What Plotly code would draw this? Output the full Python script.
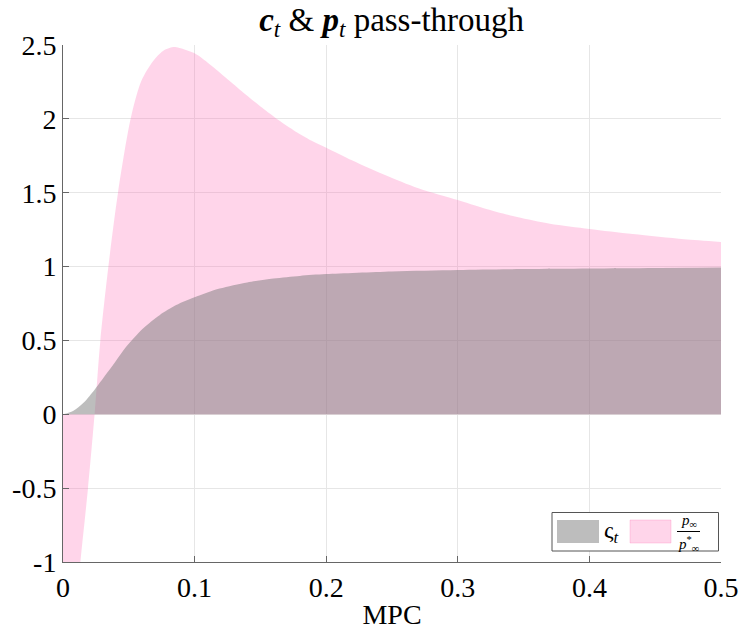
import plotly.graph_objects as go

# --- data ---
mpc_gray = [0, 0.0076, 0.0152, 0.0228, 0.0304, 0.038, 0.048, 0.0608, 0.0734,
            0.086, 0.1, 0.119, 0.14, 0.16, 0.18, 0.2, 0.25, 0.3, 0.35, 0.4,
            0.45, 0.5]
varsigma = [0, 0.0225, 0.074, 0.153, 0.243, 0.333, 0.457, 0.581, 0.671,
            0.739, 0.792, 0.851, 0.893, 0.919, 0.937, 0.949, 0.967, 0.977,
            0.983, 0.987, 0.991, 0.994]

mpc_pink = [0, 0.005, 0.01, 0.0132, 0.019, 0.024, 0.0284, 0.0345, 0.0418, 0.0514,
            0.0595, 0.0684, 0.076, 0.0836, 0.0884, 0.1, 0.1136, 0.1262, 0.1388,
            0.1514, 0.164, 0.1766, 0.189, 0.2, 0.2195, 0.2447, 0.27, 0.3, 0.3197,
            0.345, 0.37, 0.4, 0.433, 0.472, 0.5]
p_ratio = [-2.3, -1.8, -1.3, -1.0, -0.5, 0.0, 0.5, 1.0, 1.5, 2.0,
           2.256, 2.39, 2.46, 2.486, 2.48, 2.444, 2.355, 2.26, 2.165,
           2.075, 1.99, 1.915, 1.852, 1.805, 1.72, 1.62, 1.53, 1.45, 1.395,
           1.335, 1.29, 1.255, 1.22, 1.185, 1.167]

x_ticks = [0, 0.1, 0.2, 0.3, 0.4, 0.5]
x_ticktext = ["0", "0.1", "0.2", "0.3", "0.4", "0.5"]
y_ticks = [-1, -0.5, 0, 0.5, 1, 1.5, 2, 2.5]
y_ticktext = ["-1", "-0.5", "0", "0.5", "1", "1.5", "2", "2.5"]

FONT = "Liberation Serif"
GRAY_FILL = "rgba(124,124,124,0.5)"
PINK_FILL = "rgba(255,105,180,0.28)"

W, H = 739, 633
ML, MR, MT, MB = 63, 18, 45, 71
PW, PH = W - ML - MR, H - MT - MB


def px(xp):
    return (xp - ML) / PW


def py(yp):
    return (H - MB - yp) / PH


fig = go.Figure()
fig.add_trace(go.Scatter(
    x=mpc_pink, y=p_ratio, mode="none", fill="tozeroy",
    fillcolor=PINK_FILL, line=dict(shape="spline", smoothing=0.8),
    showlegend=False, hoverinfo="skip"))
fig.add_trace(go.Scatter(
    x=mpc_gray, y=varsigma, mode="none", fill="tozeroy",
    fillcolor=GRAY_FILL, line=dict(shape="spline", smoothing=0.8),
    showlegend=False, hoverinfo="skip"))

# --- legend drawn as a box with swatches ---
shapes = [
    dict(type="rect", xref="paper", yref="paper",
         x0=px(552), x1=px(718.5), y0=py(551), y1=py(512.5),
         line=dict(color="#555", width=1), fillcolor="white", layer="above"),
    dict(type="rect", xref="paper", yref="paper",
         x0=px(557), x1=px(599), y0=py(543), y1=py(520),
         line=dict(width=0), fillcolor=GRAY_FILL, layer="above"),
    dict(type="rect", xref="paper", yref="paper",
         x0=px(630), x1=px(671), y0=py(543), y1=py(520),
         line=dict(color="rgba(255,105,180,0.25)", width=1), fillcolor=PINK_FILL,
         layer="above"),
    dict(type="line", xref="paper", yref="paper",
         x0=px(677), x1=px(700), y0=py(531.5), y1=py(531.5),
         line=dict(color="black", width=1), layer="above"),
]
annotations = [
    dict(xref="paper", yref="paper", x=px(602), y=py(532), xanchor="left",
         yanchor="middle", showarrow=False,
         text="ς<sub><i>t</i></sub>", font=dict(family=FONT, size=24)),
    dict(xref="paper", yref="paper", x=px(688.5), y=py(531), xanchor="center",
         yanchor="bottom", showarrow=False, borderpad=0,
         text="<i>p</i><sub>∞</sub>", font=dict(family=FONT, size=15)),
    dict(xref="paper", yref="paper", x=px(688.5), y=py(532.5), xanchor="center",
         yanchor="top", showarrow=False, borderpad=0,
         text="<i>p</i><sup>*</sup><sub>∞</sub>", font=dict(family=FONT, size=15)),
]

fig.update_layout(
    width=W, height=H,
    margin=dict(l=ML, r=MR, t=MT, b=MB),
    paper_bgcolor="white", plot_bgcolor="white",
    font=dict(family=FONT, size=28, color="black"),
    title=dict(text="<b><i>c</i></b><sub><i>t</i></sub> &amp; <b><i>p</i></b><sub><i>t</i></sub> pass-through",
               x=0.53, xanchor="center", y=1 - 19 / H, yanchor="middle",
               font=dict(family=FONT, size=33)),
    showlegend=False,
    shapes=shapes,
    annotations=annotations,
)
fig.update_xaxes(
    range=[0, 0.5], tickvals=x_ticks, ticktext=x_ticktext,
    showgrid=True, gridcolor="#e6e6e6", gridwidth=1,
    showline=True, linecolor="#666", linewidth=1, mirror=False,
    ticks="inside", ticklen=6, tickcolor="#666",
    zeroline=False, tickfont=dict(size=28), automargin=False,
    title=dict(text="MPC", font=dict(size=28), standoff=2),
)
fig.update_yaxes(
    range=[-1, 2.5], tickvals=y_ticks, ticktext=y_ticktext,
    showgrid=True, gridcolor="#e6e6e6", gridwidth=1,
    showline=True, linecolor="#666", linewidth=1, mirror=False,
    ticks="inside", ticklen=6, tickcolor="#666",
    zeroline=False, tickfont=dict(size=28), automargin=False,
)

fig.write_html("out.html")
